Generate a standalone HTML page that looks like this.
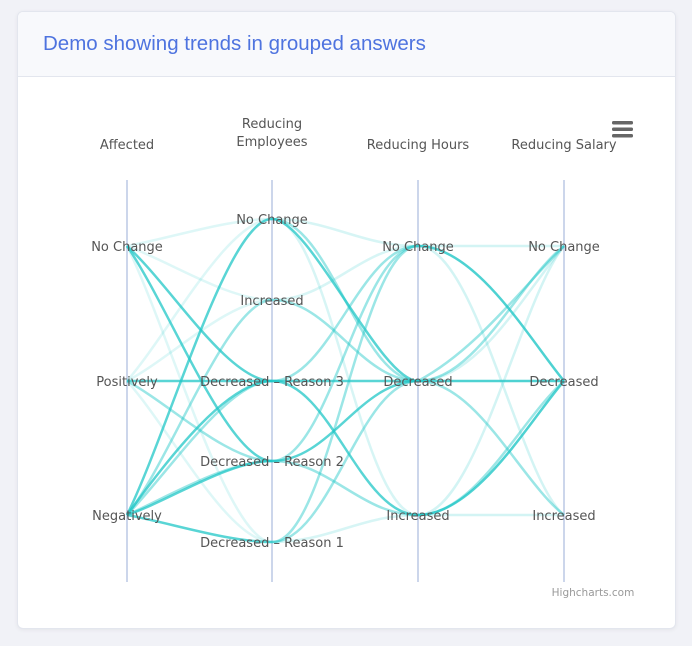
<!DOCTYPE html>
<html><head><meta charset="utf-8"><style>
html,body{margin:0;padding:0;background:#f1f2f7;width:692px;height:646px;overflow:hidden;font-family:"Liberation Sans","DejaVu Sans",sans-serif}
.card{position:absolute;left:17px;top:11px;width:657px;height:616px;background:#fff;border:1px solid #e3e6ee;border-radius:6px;box-shadow:0 1px 4px rgba(0,0,0,.06);overflow:hidden}
.hdr{height:64px;background:#f8f9fc;border-bottom:1px solid #e3e6ee}
.hdr h1{margin:0;position:absolute;left:25px;top:20px;font-size:20.5px;font-weight:normal;color:#4e73df;letter-spacing:0}
svg{position:absolute;left:0;top:0}
text{font-family:"DejaVu Sans","Liberation Sans",sans-serif;font-size:13px;fill:#555}
</style></head><body>
<div class="card"><div class="hdr"><h1>Demo showing trends in grouped answers</h1></div></div>
<svg width="692" height="646" viewBox="0 0 692 646">
<g stroke="#ccd6eb" stroke-width="2">
<line x1="127" y1="180" x2="127" y2="582"/><line x1="272" y1="180" x2="272" y2="582"/>
<line x1="418" y1="180" x2="418" y2="582"/><line x1="564" y1="180" x2="564" y2="582"/>
</g>
<g fill="none" stroke="#22c7c7" stroke-width="2.5">
<g stroke-opacity="0.15">
<path d="M127 246 C171 238 228 219 272 219"/>
<path d="M127 246 C171 336 228 542 272 542"/>
<path d="M127 246 C171 262 228 300 272 300"/>
<path d="M127 381 C171 330 228 219 272 219"/>
<path d="M127 381 C171 358 228 300 272 300"/>
<path d="M127 381 C171 430 228 542 272 542"/>
</g>
<g stroke-opacity="0.45">
<path d="M127 381 C171 405 228 461 272 461"/>
<path d="M127 515 C171 460 228 300 272 300"/>
<path d="M127 515 C171 495 228 461 272 461"/>
<path d="M127 515 C171 470 228 381 272 381"/>
</g>
<g stroke-opacity="0.75">
<path d="M127 246 C171 286 228 381 272 381"/>
<path d="M127 246 C171 310 228 461 272 461"/>
<path d="M127 381 L272 381"/>
<path d="M127 515 C171 425 228 219 272 219"/>
<path d="M127 515 C171 455 228 381 272 381"/>
<path d="M127 515 C171 500 228 461 272 461"/>
<path d="M127 515 C171 523 228 542 272 542"/>
</g>
<g stroke-opacity="0.18">
<path d="M272 219 C330 219 360 246 418 246"/>
<path d="M272 300 C330 300 360 246 418 246"/>
<path d="M272 542 C330 542 360 515 418 515"/>
<path d="M272 219 C330 219 360 515 418 515"/>
</g>
<g stroke-opacity="0.45">
<path d="M272 219 C330 219 360 381 418 381"/>
<path d="M272 300 C330 300 360 381 418 381"/>
<path d="M272 381 C330 381 360 246 418 246"/>
<path d="M272 461 C330 461 360 246 418 246"/>
<path d="M272 461 C330 461 360 515 418 515"/>
<path d="M272 542 C330 542 360 246 418 246"/>
<path d="M272 542 C330 542 360 381 418 381"/>
</g>
<g stroke-opacity="0.75">
<path d="M272 381 L418 381"/>
<path d="M272 461 C330 461 360 381 418 381"/>
<path d="M272 381 C330 381 360 515 418 515"/>
<path d="M272 219 C310 219 380 381 418 381"/>
</g>
<g stroke-opacity="0.2">
<path d="M418 246 L564 246"/>
<path d="M418 515 L564 515"/>
<path d="M418 515 C476 515 520 300 564 246"/>
<path d="M418 246 C476 246 520 480 564 515"/>
<path d="M418 381 C476 381 520 300 564 246"/>
</g>
<g stroke-opacity="0.45">
<path d="M418 381 C476 381 520 280 564 246"/>
<path d="M418 381 C476 381 520 480 564 515"/>
<path d="M418 381 C476 350 520 290 564 246"/>
<path d="M418 515 C476 515 520 420 564 381"/>
</g>
<g stroke-opacity="0.8">
<path d="M418 381 L564 381"/>
<path d="M418 246 C476 246 530 340 564 381"/>
<path d="M418 515 C476 515 530 420 564 381"/>
</g>
</g>
<g text-anchor="middle">
<text x="127" y="149">Affected</text>
<text x="272" y="128">Reducing</text><text x="272" y="146">Employees</text>
<text x="418" y="149">Reducing Hours</text>
<text x="564" y="149">Reducing Salary</text>
<text x="127" y="251">No Change</text>
<text x="127" y="386">Positively</text>
<text x="127" y="520">Negatively</text>
<text x="272" y="224">No Change</text>
<text x="272" y="305">Increased</text>
<text x="272" y="386">Decreased – Reason 3</text>
<text x="272" y="466">Decreased – Reason 2</text>
<text x="272" y="547">Decreased – Reason 1</text>
<text x="418" y="251">No Change</text>
<text x="418" y="386">Decreased</text>
<text x="418" y="520">Increased</text>
<text x="564" y="251">No Change</text>
<text x="564" y="386">Decreased</text>
<text x="564" y="520">Increased</text>
<text x="593" y="596" style="font-size:10.5px;fill:#999">Highcharts.com</text>
</g>
<g fill="#666"><rect x="612" y="121" width="21" height="3.5" rx="1.5"/><rect x="612" y="127.5" width="21" height="3.5" rx="1.5"/><rect x="612" y="134" width="21" height="3.5" rx="1.5"/></g>
</svg>
</body></html>
